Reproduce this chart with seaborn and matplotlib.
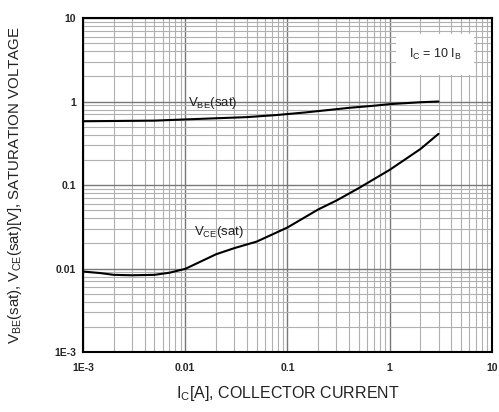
import numpy as np
import pandas as pd
import seaborn as sns
import matplotlib.pyplot as plt

# collector current [A] and saturation voltages [V]
ic_be = [0.001, 0.005, 0.01, 0.02, 0.04, 0.08, 0.15, 0.25, 0.4, 0.7, 1.0, 2.0, 3.0]
vbe_sat = [0.58, 0.59, 0.61, 0.63, 0.65, 0.69, 0.74, 0.79, 0.84, 0.89, 0.93, 0.98, 1.0]

ic_ce = [0.001, 0.0015, 0.002, 0.003, 0.005, 0.007, 0.01, 0.02, 0.03, 0.05,
         0.1, 0.2, 0.3, 0.5, 1.0, 2.0, 3.0]
vce_sat = [0.0092, 0.0088, 0.0084, 0.0083, 0.0084, 0.0089, 0.0099, 0.0148, 0.0175, 0.021,
           0.031, 0.051, 0.065, 0.092, 0.152, 0.27, 0.41]

decades = [1e-3, 1e-2, 1e-1, 1, 10]
x_tick_labels = ["1E-3", "0.01", "0.1", "1", "10"]
y_tick_labels = ["1E-3", "0.01", "0.1", "1", "10"]

sns.set_style("white")
plt.rcParams['font.family'] = ['Liberation Sans', 'DejaVu Sans']
plt.rcParams['mathtext.default'] = 'regular'

df_be = pd.DataFrame({"Ic": ic_be, "V": vbe_sat})
df_ce = pd.DataFrame({"Ic": ic_ce, "V": vce_sat})

fig = plt.figure(figsize=(4.99, 4.12), dpi=100)
ax = fig.add_axes([0.1663, 0.1456, 0.8196, 0.8107])
ax.set_xscale('log')
ax.set_yscale('log')

sns.lineplot(data=df_be, x="Ic", y="V", ax=ax, color='black', lw=1.5)
sns.lineplot(data=df_ce, x="Ic", y="V", ax=ax, color='black', lw=1.5)

ax.set_xlim(1e-3, 10)
ax.set_ylim(1e-3, 10)

# log grid: dark major lines, lighter minor lines
ax.grid(True, which='major', color='#787878', lw=1.0)
ax.grid(True, which='minor', color='#b0b0b0', lw=0.8)
ax.set_axisbelow(True)

ax.set_xticks(decades, x_tick_labels)
ax.set_yticks(decades, y_tick_labels)
ax.tick_params(axis='both', which='both', length=0, labelsize=7.5)
ax.tick_params(axis='x', pad=8)
ax.tick_params(axis='y', pad=5)
for lbl in ax.get_xticklabels() + ax.get_yticklabels():
    lbl.set_fontweight('bold')

for s in ax.spines.values():
    s.set_color('black')
    s.set_linewidth(1.5)

ax.set_xlabel(r"I$_C$[A], COLLECTOR CURRENT", fontsize=11.5, color='#222222', labelpad=8)
ax.set_ylabel(r"V$_{BE}$(sat), V$_{CE}$(sat)[V], SATURATION VOLTAGE", fontsize=10.8,
              color='#222222', labelpad=22)

ax.text(0.0187, 0.95, r"V$_{BE}$(sat)", fontsize=9.5, ha='center', va='center', color='#222222')
ax.text(0.0214, 0.027, r"V$_{CE}$(sat)", fontsize=9.5, ha='center', va='center', color='#222222')
ax.text(2.77, 3.66, r"I$_C$ = 10 I$_B$", fontsize=9, ha='center', va='center', color='#222222',
        bbox=dict(facecolor='white', edgecolor='none', boxstyle='square,pad=1.0'))

fig.savefig("out.png", dpi=100)
